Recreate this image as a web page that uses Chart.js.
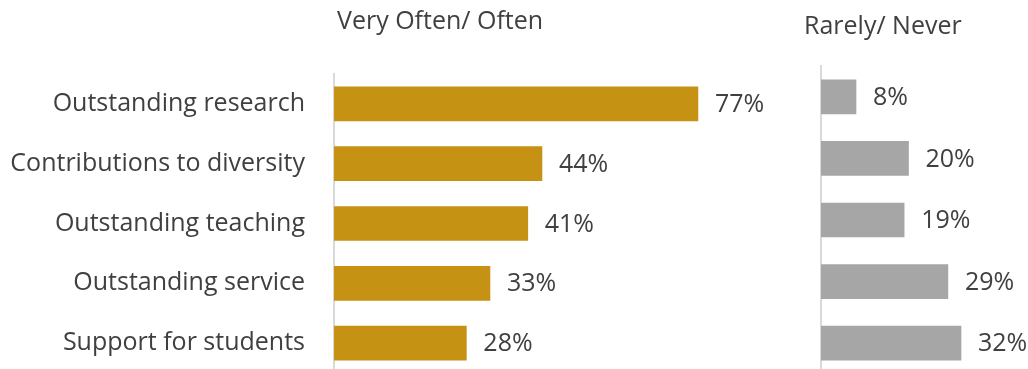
<!DOCTYPE html>
<html><head><meta charset="utf-8">
<script src="https://cdn.jsdelivr.net/npm/chart.js@4"></script>
<style>
html,body{margin:0;padding:0;background:#fff;}
#wrap{position:relative;width:1028px;height:369px;overflow:hidden;background:#fff;}
#left{position:absolute;left:0;top:0;}
#right{position:absolute;left:800px;top:0;}
.t{position:absolute;font-family:'Open Sans';font-size:25px;line-height:1;color:#404040;white-space:nowrap;}
</style></head>
<body>
<div id="wrap">
  <canvas id="left" width="800" height="417"></canvas>
  <canvas id="right" width="228" height="374"></canvas>
  <div class="t" id="t1" style="left:337px;top:7px;"></div>
  <div class="t" id="t2" style="left:804px;top:12px;"></div>
</div>
<script>
const categories = ["Outstanding research","Contributions to diversity","Outstanding teaching","Outstanding service","Support for students"];
const oftenValues = [77, 44, 41, 33, 28];
const rarelyValues = [8, 20, 19, 29, 32];
const panelTitles = ["Very Often/ Often","Rarely/ Never"];

document.getElementById('t1').textContent = panelTitles[0];
document.getElementById('t2').textContent = panelTitles[1];

Chart.defaults.font.family = "'Open Sans'";
Chart.defaults.font.size = 25;
Chart.defaults.color = '#404040';

const valuePlugin = {
  id: 'vals',
  afterDatasetsDraw(chart) {
    const ctx = chart.ctx;
    const meta = chart.getDatasetMeta(0);
    const data = chart.data.datasets[0].data;
    ctx.save();
    ctx.font = "25px 'Open Sans'";
    ctx.fillStyle = '#404040';
    ctx.textBaseline = 'middle';
    ctx.textAlign = 'left';
    meta.data.forEach((bar, i) => {
      ctx.fillText(data[i] + '%', bar.x + 17, bar.y + 1);
    });
    ctx.restore();
  }
};

function makeChart(id, values, color, max, yWidth, showLabels, padding) {
  return new Chart(document.getElementById(id), {
    type: 'bar',
    data: {
      labels: categories,
      datasets: [{ data: values, backgroundColor: color, borderWidth: 0, barThickness: 34 }]
    },
    options: {
      indexAxis: 'y',
      responsive: false,
      animation: false,
      layout: { padding: padding },
      plugins: { legend: { display: false }, tooltip: { enabled: false }, title: { display: false } },
      scales: {
        x: { display: false, min: 0, max: max },
        y: {
          grid: { display: false, drawTicks: false },
          border: { display: true, color: '#D9D9D9', width: 2 },
          ticks: { display: showLabels, padding: 29, color: '#404040', font: { size: 25 } },
          afterFit(scale) { scale.width = yWidth; }
        }
      }
    },
    plugins: [valuePlugin]
  });
}

makeChart('left', oftenValues, '#C59214', 95, 334, true, { top: 74, right: 17, bottom: 0, left: 0 });
makeChart('right', rarelyValues, '#A6A6A6', 40, 21, false, { top: 66, right: 32, bottom: 0, left: 0 });
</script>
</body></html>
